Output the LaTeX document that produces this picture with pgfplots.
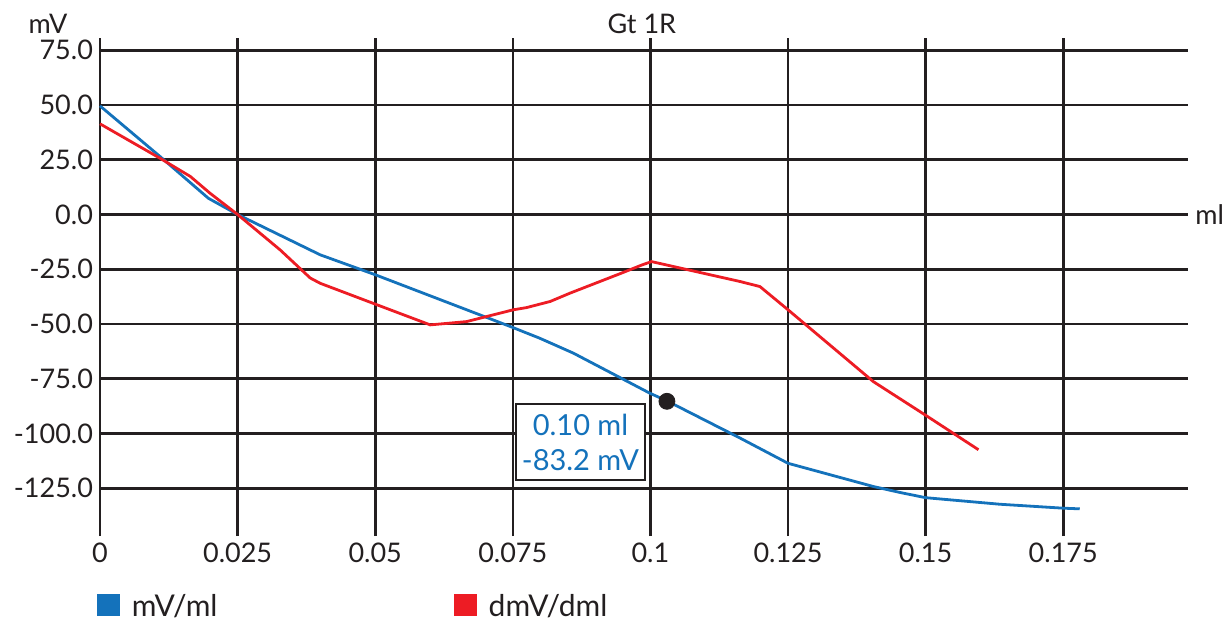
\documentclass[border=0pt]{standalone}
\usepackage{pgfplots}
\pgfplotsset{compat=1.18}
\usepackage{fontspec}
\setmainfont{Lato}
\definecolor{cblue}{RGB}{20,114,187}
\definecolor{cred}{RGB}{237,28,36}
\definecolor{cgrid}{RGB}{35,31,32}
\definecolor{ctext}{RGB}{35,31,32}
\begin{document}
\begin{tikzpicture}[font=\fontsize{13.5}{17.5}\selectfont, text=ctext]
\begin{axis}[
  scale only axis, width=544pt, height=249pt,
  xmin=0, xmax=0.19767, ymin=-146.8, ymax=80.6,
  axis lines*=left, axis line style={draw=none},
  grid=major, major grid style={cgrid, line width=1.3pt},
  major tick length=0pt,
  xtick={0,0.025,0.05,0.075,0.1,0.125,0.15,0.175},
  xticklabels={0,0.025,0.05,0.075,0.1,0.125,0.15,0.175},
  ytick={-125,-100,-75,-50,-25,0,25,50,75},
  yticklabel style={/pgf/number format/.cd, fixed, fixed zerofill, precision=1, assume math mode=true},
  clip=false,
  legend columns=2,
  legend cell align=left,
  legend style={draw=none, fill=none, inner sep=0pt, at={(-0.003,-0.1426)}, anchor=west,
    font=\fontsize{15}{18}\selectfont},
  legend image code/.code={\fill[#1] (0pt,-4pt) rectangle (10pt,6pt);},
]
\addplot[cblue, line width=1.4pt] coordinates {
 (0,49.6) (0.0109,26.5) (0.0197,7.4) (0.025,0) (0.040,-18.4)
 (0.050,-27.5) (0.0745,-51.1) (0.0799,-56.5) (0.086,-63.3) (0.0999,-81.6)
 (0.103,-85.1) (0.1163,-102.1) (0.125,-113.6) (0.1405,-124.2) (0.1453,-126.9)
 (0.150,-129.3) (0.1635,-132.3) (0.175,-134.1) (0.178,-134.4)
};
\addlegendentry{\hspace{4pt}\makebox[159pt][l]{mV/ml}}
\addplot[cred, line width=1.4pt] coordinates {
 (0,41.4) (0.0109,25.7) (0.0164,17.4) (0.020,9.7) (0.025,0) (0.0327,-16.1)
 (0.0382,-29) (0.040,-31.4) (0.0503,-41.2) (0.060,-50.4) (0.0666,-48.9)
 (0.0751,-43.5) (0.0775,-42.5) (0.0818,-39.7) (0.0854,-35.9) (0.0945,-27)
 (0.0985,-23) (0.1002,-21.5) (0.1163,-30.6) (0.1199,-32.9) (0.125,-43.5)
 (0.1405,-76.3) (0.1499,-91.5) (0.1596,-107.4)
};
\addlegendentry{\hspace{4pt}dmV/dml}
\addplot[only marks, mark=*, mark size=4pt, cgrid, forget plot] coordinates {(0.103,-85.3)};
\node[draw=cgrid, fill=white, line width=1.2pt, text=cblue, align=center,
      minimum width=64.5pt, minimum height=38pt, inner sep=2pt,
      font=\fontsize{14.5}{17.5}\selectfont]
  at (axis cs:0.0873,-103.9) {0.10 ml\\-83.2 mV};
\node at (rel axis cs:-0.0478,1.029) {mV};
\node at (rel axis cs:0.498,1.029) {Gt 1R};
\node[anchor=west, inner sep=0pt] at (axis cs:0.19767,0) {\hspace{3.5pt}ml};
\end{axis}
\pgfresetboundingbox
\path[use as bounding box] ([xshift=-50pt,yshift=-42.5pt]current axis.south west) rectangle ([xshift=565.5pt,yshift=268pt]current axis.south west);
\end{tikzpicture}
\end{document}
